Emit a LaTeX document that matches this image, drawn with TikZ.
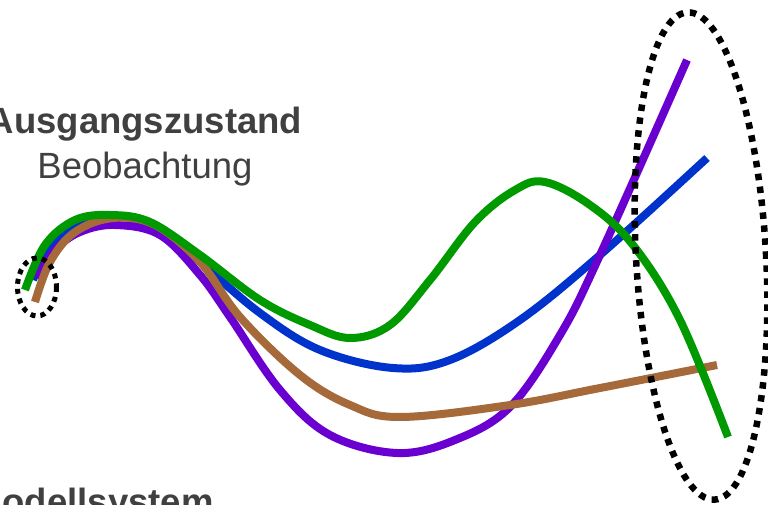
\documentclass[tikz,border=0pt]{standalone}
\usepackage{fontspec}
\setmainfont{Liberation Sans}
\usetikzlibrary{positioning}
\definecolor{textgrau}{HTML}{404040}
\definecolor{kgruen}{HTML}{009A00}
\definecolor{kblau}{HTML}{0033CC}
\definecolor{klila}{HTML}{6A00CF}
\definecolor{kbraun}{HTML}{A5693A}

\begin{document}
\begin{tikzpicture}[x=1pt,y=-1pt,
  bahn/.style={line width=8pt,line cap=butt},
  punktrand/.style={black,line width=6.5pt,dash pattern=on 6.5pt off 6.5pt},
  beschr/.style={text=textgrau,font=\fontsize{36.5}{44}\selectfont,inner sep=0pt}]
\useasboundingbox (0,0) rectangle (768,505);
\clip (0,0) rectangle (768,505);
\node[beschr,anchor=base] (ausgang) at (145,134) {\textbf{Ausgangszustand}};
\node[beschr,anchor=base] (beob) at (145,179) {Beobachtung};
\node[beschr,anchor=base west] (modell) at (-28,514) {\textbf{Modellsystem}};
% trajektorien
\draw[bahn,kblau] plot[smooth,tension=0.6] coordinates {(33,280) (50,245) (80,222) (115,216) (160,228) (200,262) (260,313) (320,350) (393,368) (450,360) (520,320) (600,255) (707,158)};
\draw[bahn,klila] plot[smooth,tension=0.6] coordinates {(37,278) (55,250) (80,232) (115,225) (160,235) (200,275) (230,317) (280,390) (330,435) (397,453) (455,440) (510,407) (560,335) (600,255) (687,60)};
\draw[bahn,kbraun] plot[smooth,tension=0.6] coordinates {(35,302) (50,262) (75,232) (113,218) (155,225) (200,262) (240,317) (300,375) (350,405) (400,417) (510,405) (600,388) (717,365)};
\draw[bahn,kgruen] plot[smooth,tension=0.6] coordinates {(25,290) (45,245) (75,220) (110,215) (150,222) (200,255) (260,300) (310,325) (350,338) (390,325) (430,280) (475,222) (515,190) (545,182) (590,205) (633,245) (680,320) (728,437)};
% anfangs- und endbereich
\draw[punktrand,line width=5pt,dash pattern=on 5pt off 5pt] (37,287) ellipse (19.5 and 29);
\draw[punktrand,rotate around={3.2:(701,256)}] (701,256) ellipse (65 and 244);
\end{tikzpicture}
\end{document}
